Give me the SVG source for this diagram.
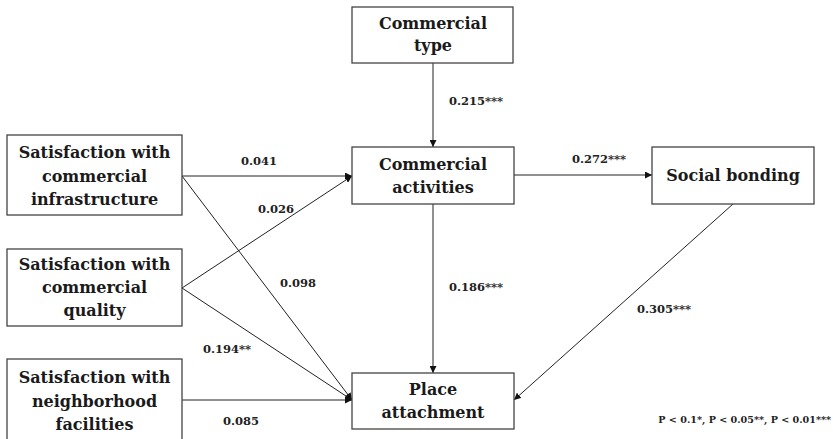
<svg xmlns="http://www.w3.org/2000/svg" width="833" height="439" viewBox="0 0 833 439">
<defs>
<marker id="ah" viewBox="0 0 10 10" refX="10" refY="5" markerWidth="7" markerHeight="7" markerUnits="userSpaceOnUse" orient="auto">
<path d="M0,0 L10,5 L0,10 z" fill="#111"/>
</marker>
<style>
.box{fill:#fff;stroke:#444;stroke-width:1.3}
.nt{font-family:"DejaVu Serif",serif;font-weight:bold;font-size:16px;fill:#1a1a1a;text-anchor:middle}
.lb{font-family:"DejaVu Serif",serif;font-weight:bold;font-size:11.5px;fill:#222}
.edge{stroke:#222;stroke-width:1;fill:none;marker-end:url(#ah)}
</style>
</defs>
<rect width="833" height="439" fill="#fff"/>
<g id="connectors">
<line class="edge" x1="433" y1="63" x2="433" y2="147"/>
<line class="edge" x1="514" y1="175" x2="652" y2="175"/>
<line class="edge" x1="433" y1="204" x2="433" y2="373"/>
<line class="edge" x1="733" y1="204" x2="514" y2="400"/>
<line class="edge" x1="182" y1="176" x2="352" y2="176"/>
<line class="edge" x1="182" y1="288" x2="352" y2="176"/>
<line class="edge" x1="182" y1="176" x2="352" y2="400"/>
<line class="edge" x1="182" y1="288" x2="352" y2="400"/>
<line class="edge" x1="182" y1="400" x2="352" y2="400"/>
</g>
<g id="n-type">
<rect class="box" x="352" y="7" width="161" height="56"/>
<text class="nt" x="433" y="29">Commercial</text>
<text class="nt" x="433" y="51">type</text>
</g>
<g id="n-activities">
<rect class="box" x="352" y="147" width="162" height="57"/>
<text class="nt" x="433" y="170">Commercial</text>
<text class="nt" x="433" y="193">activities</text>
</g>
<g id="n-social">
<rect class="box" x="652" y="147" width="162" height="57"/>
<text class="nt" x="733" y="181">Social bonding</text>
</g>
<g id="n-place">
<rect class="box" x="352" y="373" width="162" height="56"/>
<text class="nt" x="433" y="395">Place</text>
<text class="nt" x="433" y="418">attachment</text>
</g>
<g id="n-infra">
<rect class="box" x="7" y="135" width="175" height="80"/>
<text class="nt" x="94.5" y="158">Satisfaction with</text>
<text class="nt" x="94.5" y="182">commercial</text>
<text class="nt" x="94.5" y="205">infrastructure</text>
</g>
<g id="n-quality">
<rect class="box" x="7" y="249" width="175" height="77"/>
<text class="nt" x="94.5" y="270">Satisfaction with</text>
<text class="nt" x="94.5" y="293">commercial</text>
<text class="nt" x="94.5" y="316">quality</text>
</g>
<g id="n-neigh">
<rect class="box" x="7" y="359" width="175" height="84"/>
<text class="nt" x="94.5" y="383">Satisfaction with</text>
<text class="nt" x="94.5" y="407">neighborhood</text>
<text class="nt" x="94.5" y="430">facilities</text>
</g>
<g id="labels">
<text class="lb" x="241" y="165">0.041</text>
<text class="lb" x="258" y="213">0.026</text>
<text class="lb" x="280" y="287">0.098</text>
<text class="lb" x="203" y="353">0.194**</text>
<text class="lb" x="223" y="425">0.085</text>
<text class="lb" x="449" y="105">0.215***</text>
<text class="lb" x="572" y="163">0.272***</text>
<text class="lb" x="449" y="291">0.186***</text>
<text class="lb" x="637" y="313">0.305***</text>
<text class="lb" x="831" y="423" text-anchor="end" style="font-size:9.6px">P &lt; 0.1*, P &lt; 0.05**, P &lt; 0.01***</text>
</g>
</svg>
